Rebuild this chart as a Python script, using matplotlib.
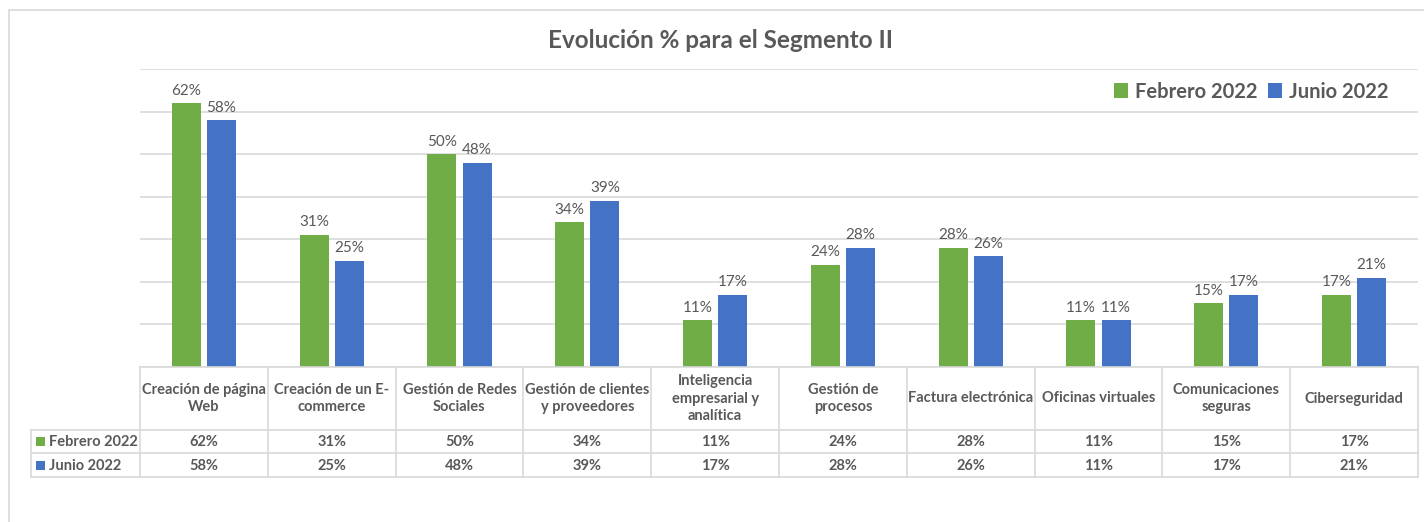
import numpy as np
import matplotlib.pyplot as plt
from matplotlib.patches import Rectangle
from matplotlib.lines import Line2D

# Daten
categorias = [
    "Creación de página\nWeb",
    "Creación de un E-\ncommerce",
    "Gestión de Redes\nSociales",
    "Gestión de clientes\ny proveedores",
    "Inteligencia\nempresarial y\nanalítica",
    "Gestión de\nprocesos",
    "Factura electrónica",
    "Oficinas virtuales",
    "Comunicaciones\nseguras",
    "Ciberseguridad",
]
febrero_2022 = [0.62, 0.31, 0.50, 0.34, 0.11, 0.24, 0.28, 0.11, 0.15, 0.17]
junio_2022 = [0.58, 0.25, 0.48, 0.39, 0.17, 0.28, 0.26, 0.11, 0.17, 0.21]
series = [("Febrero 2022", febrero_2022), ("Junio 2022", junio_2022)]

# Stil
VERDE = "#70AD47"
AZUL = "#4472C4"
TEXTO = "#595959"
GRID = "#D9D9D9"
plt.rcParams["font.family"] = ["Lato", "DejaVu Sans"]

W, H = 1424, 522
fig = plt.figure(figsize=(W / 100, H / 100), dpi=100)


def px(x, y):
    # Pixel (oben links) -> Figurkoordinaten
    return x / W, 1 - y / H


# Rahmen des Diagramms
fig.add_artist(Rectangle(px(9, 540), 1500 / W, 530 / H, transform=fig.transFigure,
                         fill=False, edgecolor=GRID, lw=1.2))

x0, x1, ytop, ybot = 140, 1418, 69, 367
ax = fig.add_axes([x0 / W, 1 - ybot / H, (x1 - x0) / W, (ybot - ytop) / H])
ax.set_xlim(-0.5, len(categorias) - 0.5)
ax.set_ylim(0, 0.70)
for s in ax.spines.values():
    s.set_visible(False)
ax.set_xticks([])
ax.set_yticks(np.arange(0, 0.71, 0.1))
ax.tick_params(left=False, labelleft=False)
ax.grid(axis="y", color=GRID, lw=1.2)
ax.set_axisbelow(True)

x = np.arange(len(categorias))
w = 0.227
off = 0.137
for (name, vals), col, d in zip(series, [VERDE, AZUL], [-off, off]):
    bars = ax.bar(x + d, vals, width=w, color=col, label=name)
    ax.bar_label(bars, labels=[f"{v:.0%}" for v in vals], padding=4,
                 fontsize=11, color=TEXTO)

# Titel
fig.text(*px(720, 40), "Evolución % para el Segmento II", ha="center", va="center",
         fontsize=17.5, fontweight="bold", color=TEXTO)

# Legende
leg = ax.legend(loc="upper right", bbox_to_anchor=(0.983, 0.985), ncol=2, frameon=False,
                prop={"size": 14.5, "weight": "bold"}, handlelength=0.7, handleheight=0.7,
                handletextpad=0.35, columnspacing=0.5, borderaxespad=0)
for t in leg.get_texts():
    t.set_color(TEXTO)

# Datentabelle
col_w = (x1 - x0) / len(categorias)
rows = [367, 430, 453, 477]
lx = 31
lines = []
lines.append(((x0, x1), (rows[0], rows[0])))
for r in rows[1:]:
    lines.append(((lx, x1), (r, r)))
for i in range(len(categorias) + 1):
    xx = x0 + i * col_w
    lines.append(((xx, xx), (rows[0], rows[3])))
lines.append(((lx, lx), (rows[1], rows[3])))
for (xa, xb), (ya, yb) in lines:
    fig.add_artist(Line2D([xa / W, xb / W], [1 - ya / H, 1 - yb / H],
                          transform=fig.transFigure, color=GRID, lw=1.2))

tfont = dict(fontsize=10.5, fontweight="bold", color=TEXTO)
for i, cat in enumerate(categorias):
    cx = x0 + (i + 0.5) * col_w
    fig.text(*px(cx, (rows[0] + rows[1]) / 2), cat, ha="center", va="center",
             linespacing=1.3, **tfont)
    for k, (name, vals) in enumerate(series):
        fig.text(*px(cx, (rows[k + 1] + rows[k + 2]) / 2 + 1), f"{vals[i]:.0%}",
                 ha="center", va="center", **tfont)

for k, ((name, vals), col) in enumerate(zip(series, [VERDE, AZUL])):
    yc = (rows[k + 1] + rows[k + 2]) / 2
    fig.add_artist(Rectangle(px(36, yc + 4.5), 9 / W, 9 / H, transform=fig.transFigure,
                             color=col, lw=0))
    fig.text(*px(49, yc + 1), name, ha="left", va="center", **tfont)

fig.savefig("out.png", dpi=100)
